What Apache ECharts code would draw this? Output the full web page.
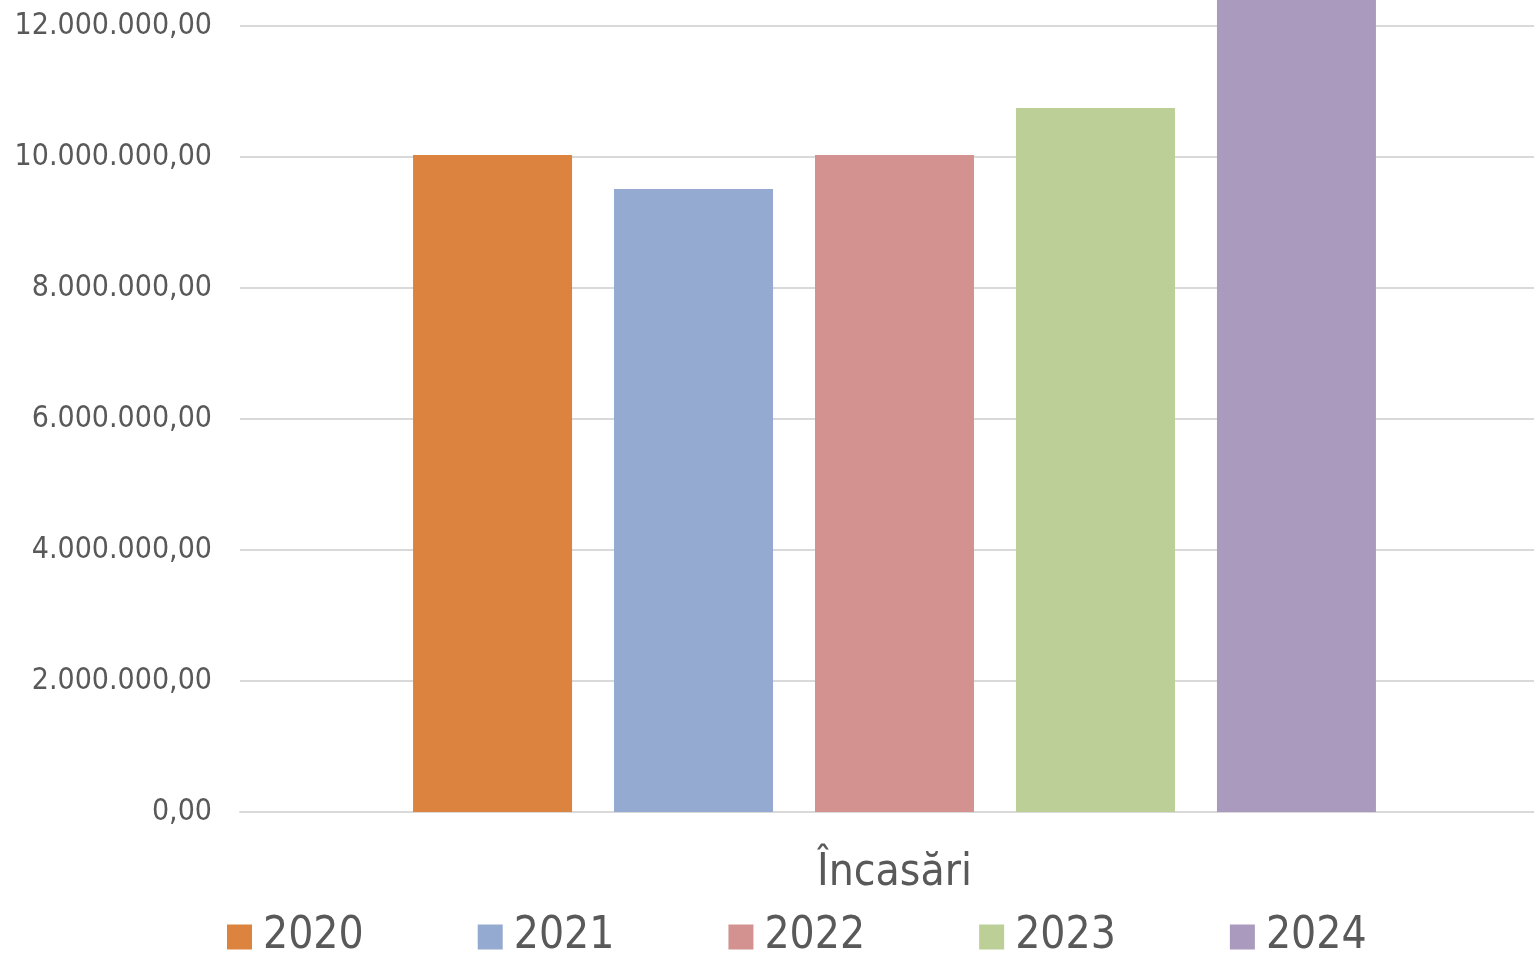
<!DOCTYPE html>
<html>
<head>
<meta charset="utf-8">
<script src="https://cdn.jsdelivr.net/npm/echarts@6/dist/echarts.min.js"></script>
<style>
  html, body { margin: 0; padding: 0; background: #fff; overflow: hidden; width: 1534px; height: 954px; }
  /* graficul original e decupat sus si in dreapta */
  #root { position: absolute; left: 0; top: -105px; width: 1549px; height: 1059px; }
</style>
</head>
<body>
<div id="root"></div>
<script>
// date
var categories = ['Încasări'];
var years = ['2020', '2021', '2022', '2023', '2024'];
var values = [10030000, 9510000, 10030000, 10750000, 13000000];
var colors = ['#DC833F', '#95AAD1', '#D39190', '#BBCF97', '#AA9ABE'];
var yTicks = { min: 0, max: 14000000, step: 2000000 };

var font = '"DejaVu Sans Condensed", "DejaVu Sans", sans-serif';
var txt = '#595959';

// 12000000 -> 12.000.000,00
function fmt(v) {
  var s = String(Math.round(v));
  s = s.replace(/\B(?=(\d{3})+(?!\d))/g, '.');
  return s + ',00';
}

var series = years.map(function (y, i) {
  return {
    name: y,
    type: 'bar',
    data: [values[i]],
    barWidth: 159,
    barGap: '26.4%',
    itemStyle: { color: colors[i] }
  };
});

var myChart = echarts.init(document.getElementById('root'));
myChart.setOption({
  animation: false,
  grid: { left: 240, right: 0, top: 0, bottom: 142, containLabel: false, outerBoundsMode: 'none' },
  legend: {
    data: years,
    left: 227,
    top: 1020,
    padding: 0,
    icon: 'rect',
    itemWidth: 25,
    itemHeight: 25,
    itemGap: 114,
    textStyle: { fontFamily: font, fontSize: 44, color: txt, width: 99, padding: [0, 0, 0, 6] }
  },
  xAxis: {
    type: 'category',
    data: categories,
    axisLine: { lineStyle: { color: '#D9D9D9', width: 2 } },
    axisTick: { show: false },
    axisLabel: { fontFamily: font, fontSize: 44, color: txt, margin: 40 }
  },
  yAxis: {
    type: 'value',
    min: yTicks.min,
    max: yTicks.max,
    interval: yTicks.step,
    axisLine: { show: false },
    axisTick: { show: false },
    splitLine: { lineStyle: { color: '#D9D9D9', width: 2 } },
    axisLabel: { fontFamily: font, fontSize: 30, color: txt, margin: 28, formatter: fmt }
  },
  series: series
});
</script>
</body>
</html>
